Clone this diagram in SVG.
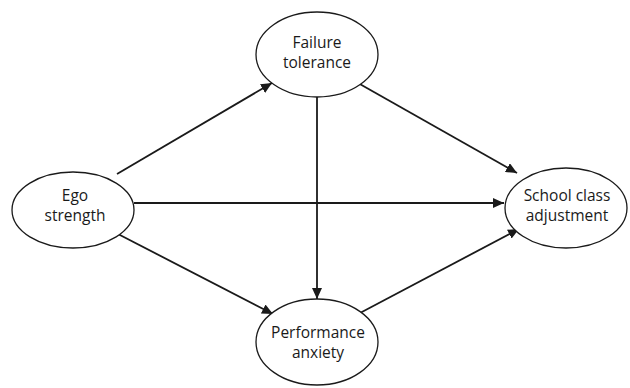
<svg xmlns="http://www.w3.org/2000/svg" width="630" height="388" viewBox="0 0 630 388">
<style>
.node ellipse{fill:#fff;stroke:#1a1a1a;stroke-width:1.3}
.node text{font-family:"Open Sans","Noto Sans",sans-serif;font-size:15.5px;fill:#1a1a1a;text-anchor:middle}
.edge{stroke:#1a1a1a;stroke-width:1.8;fill:none;marker-end:url(#ah)}
</style>
<defs>
<marker id="ah" markerUnits="userSpaceOnUse" markerWidth="12" markerHeight="10" viewBox="0 0 12 10" refX="11" refY="5" orient="auto">
<path d="M0,0 L11,5 L0,10 Z" fill="#1a1a1a"/>
</marker>
</defs>
<rect width="630" height="388" fill="#fff"/>
<g id="connectors">
<line class="edge" x1="117" y1="174" x2="272" y2="83"/>
<line class="edge" x1="118" y1="234" x2="273" y2="314"/>
<line class="edge" x1="134" y1="203" x2="504" y2="203"/>
<line class="edge" x1="358" y1="83" x2="517" y2="173"/>
<line class="edge" x1="317" y1="97" x2="317" y2="299"/>
<line class="edge" x1="360" y1="313" x2="519" y2="229"/>
</g>
<g id="ego" class="node">
<ellipse cx="73" cy="210" rx="61" ry="38"/>
<text x="75" y="201">Ego</text>
<text x="75" y="221">strength</text>
</g>
<g id="failure" class="node">
<ellipse cx="317" cy="54.5" rx="61" ry="42.5"/>
<text x="317" y="48">Failure</text>
<text x="317" y="68">tolerance</text>
</g>
<g id="performance" class="node">
<ellipse cx="317" cy="342" rx="61" ry="43"/>
<text x="318" y="338">Performance</text>
<text x="318" y="358">anxiety</text>
</g>
<g id="school" class="node">
<ellipse cx="566" cy="208" rx="61" ry="40"/>
<text x="567" y="201">School class</text>
<text x="567" y="221">adjustment</text>
</g>
</svg>
